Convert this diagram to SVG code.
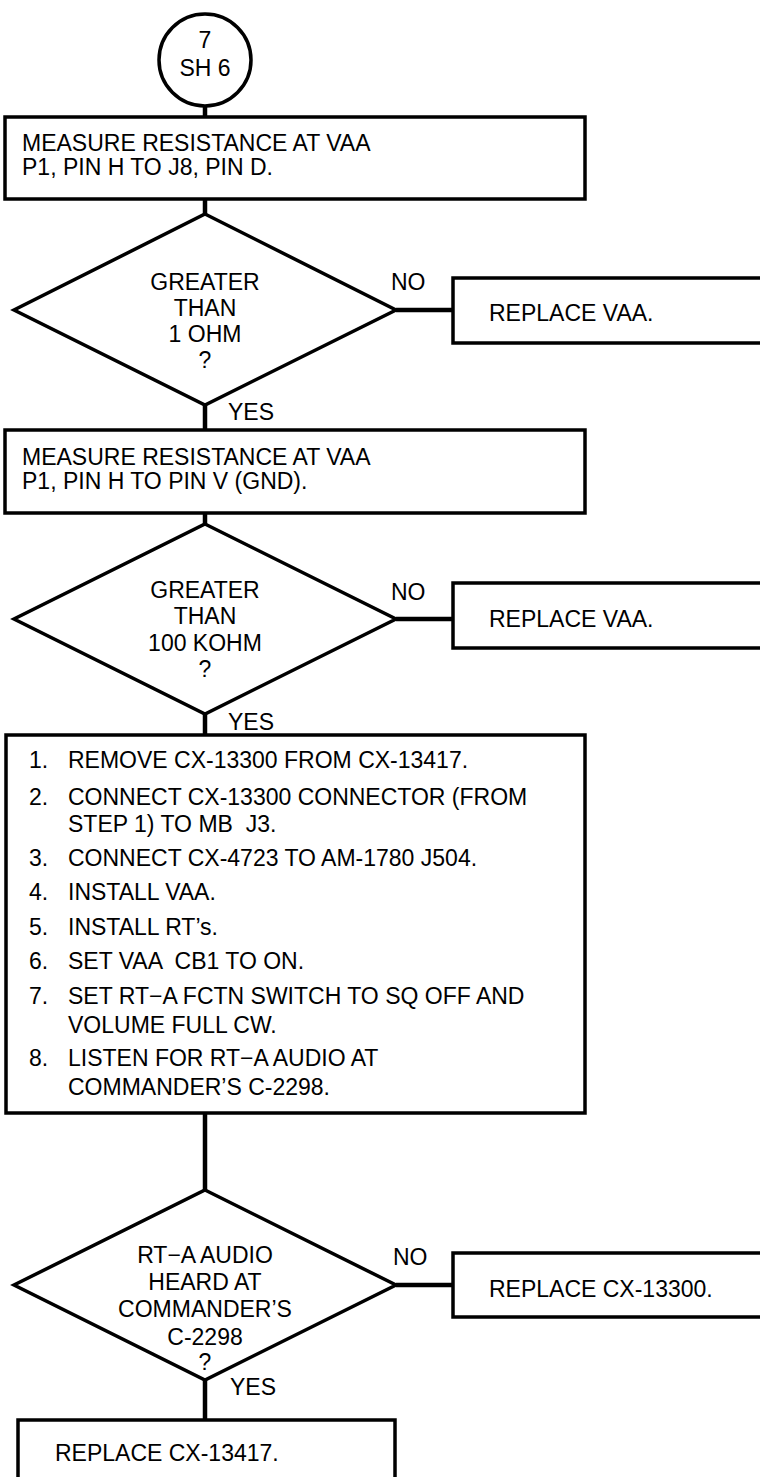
<svg xmlns="http://www.w3.org/2000/svg" width="760" height="1477" viewBox="0 0 760 1477">
  <style>
    .shape { fill: #fff; stroke: #000; stroke-width: 3.5; }
    .wire { fill: none; stroke: #000; stroke-width: 4.5; }
    text { font-family: "Liberation Sans", Arial, sans-serif; font-size: 23px; fill: #000; white-space: pre; }
    .mid { text-anchor: middle; }
  </style>
  <rect width="760" height="1477" fill="#fff"/>

  <!-- connectors -->
  <g id="connectors">
    <line class="wire" x1="205" y1="106" x2="205" y2="117"/>
    <line class="wire" x1="205" y1="199" x2="205" y2="214"/>
    <line class="wire" x1="396" y1="310" x2="453" y2="310"/>
    <line class="wire" x1="205" y1="405" x2="205" y2="430"/>
    <line class="wire" x1="205" y1="513" x2="205" y2="524"/>
    <line class="wire" x1="396" y1="619" x2="453" y2="619"/>
    <line class="wire" x1="205" y1="714" x2="205" y2="735"/>
    <line class="wire" x1="205" y1="1113" x2="205" y2="1190"/>
    <line class="wire" x1="396" y1="1285" x2="453" y2="1285"/>
    <line class="wire" x1="205" y1="1380" x2="205" y2="1420"/>
    <text x="391" y="290">NO</text>
    <text x="228" y="420">YES</text>
    <text x="391" y="600">NO</text>
    <text x="228" y="730">YES</text>
    <text x="393" y="1265">NO</text>
    <text x="230" y="1395">YES</text>
  </g>

  <!-- off-page connector -->
  <g id="ref-7-sh6">
    <circle class="shape" cx="205" cy="60" r="46"/>
    <text class="mid" x="205" y="48">7</text>
    <text class="mid" x="205" y="76">SH 6</text>
  </g>

  <g id="measure-j8">
    <rect class="shape" x="5" y="117" width="580" height="82"/>
    <text x="22" y="151">MEASURE RESISTANCE AT VAA</text>
    <text x="22" y="175">P1, PIN H TO J8, PIN D.</text>
  </g>

  <g id="check-1-ohm">
    <polygon class="shape" points="205,214 396,310 205,405 14,310"/>
    <text class="mid" x="205" y="290">GREATER</text>
    <text class="mid" x="205" y="316">THAN</text>
    <text class="mid" x="205" y="342">1 OHM</text>
    <text class="mid" x="205" y="368">?</text>
  </g>

  <g id="replace-vaa-1">
    <rect class="shape" x="453" y="278" width="330" height="65"/>
    <text x="489" y="321">REPLACE VAA.</text>
  </g>

  <g id="measure-gnd">
    <rect class="shape" x="5" y="430" width="580" height="83"/>
    <text x="22" y="465">MEASURE RESISTANCE AT VAA</text>
    <text x="22" y="489">P1, PIN H TO PIN V (GND).</text>
  </g>

  <g id="check-100-kohm">
    <polygon class="shape" points="205,524 396,619 205,714 14,619"/>
    <text class="mid" x="205" y="598">GREATER</text>
    <text class="mid" x="205" y="624">THAN</text>
    <text class="mid" x="205" y="651">100 KOHM</text>
    <text class="mid" x="205" y="677">?</text>
  </g>

  <g id="replace-vaa-2">
    <rect class="shape" x="453" y="583" width="330" height="65"/>
    <text x="489" y="627">REPLACE VAA.</text>
  </g>

  <g id="audio-setup">
    <rect class="shape" x="6" y="735" width="579" height="378"/>
    <text x="29" y="768">1.</text><text x="68" y="768">REMOVE CX-13300 FROM CX-13417.</text>
    <text x="29" y="805">2.</text><text x="68" y="805">CONNECT CX-13300 CONNECTOR (FROM</text>
    <text x="68" y="832">STEP 1) TO MB  J3.</text>
    <text x="29" y="866">3.</text><text x="68" y="866">CONNECT CX-4723 TO AM-1780 J504.</text>
    <text x="29" y="900">4.</text><text x="68" y="900">INSTALL VAA.</text>
    <text x="29" y="935">5.</text><text x="68" y="935">INSTALL RT’s.</text>
    <text x="29" y="969">6.</text><text x="68" y="969">SET VAA  CB1 TO ON.</text>
    <text x="29" y="1004">7.</text><text x="68" y="1004">SET RT−A FCTN SWITCH TO SQ OFF AND</text>
    <text x="68" y="1033">VOLUME FULL CW.</text>
    <text x="29" y="1066">8.</text><text x="68" y="1066">LISTEN FOR RT−A AUDIO AT</text>
    <text x="68" y="1095">COMMANDER’S C-2298.</text>
  </g>

  <g id="check-audio">
    <polygon class="shape" points="205,1190 396,1285 205,1380 14,1285"/>
    <text class="mid" x="205" y="1263">RT−A AUDIO</text>
    <text class="mid" x="205" y="1290">HEARD AT</text>
    <text class="mid" x="205" y="1317">COMMANDER’S</text>
    <text class="mid" x="205" y="1345">C-2298</text>
    <text class="mid" x="205" y="1370">?</text>
  </g>

  <g id="replace-cx13300">
    <rect class="shape" x="453" y="1253" width="330" height="64"/>
    <text x="489" y="1297">REPLACE CX-13300.</text>
  </g>

  <g id="replace-cx13417">
    <rect class="shape" x="18" y="1420" width="377" height="80"/>
    <text x="55" y="1461">REPLACE CX-13417.</text>
  </g>
</svg>
